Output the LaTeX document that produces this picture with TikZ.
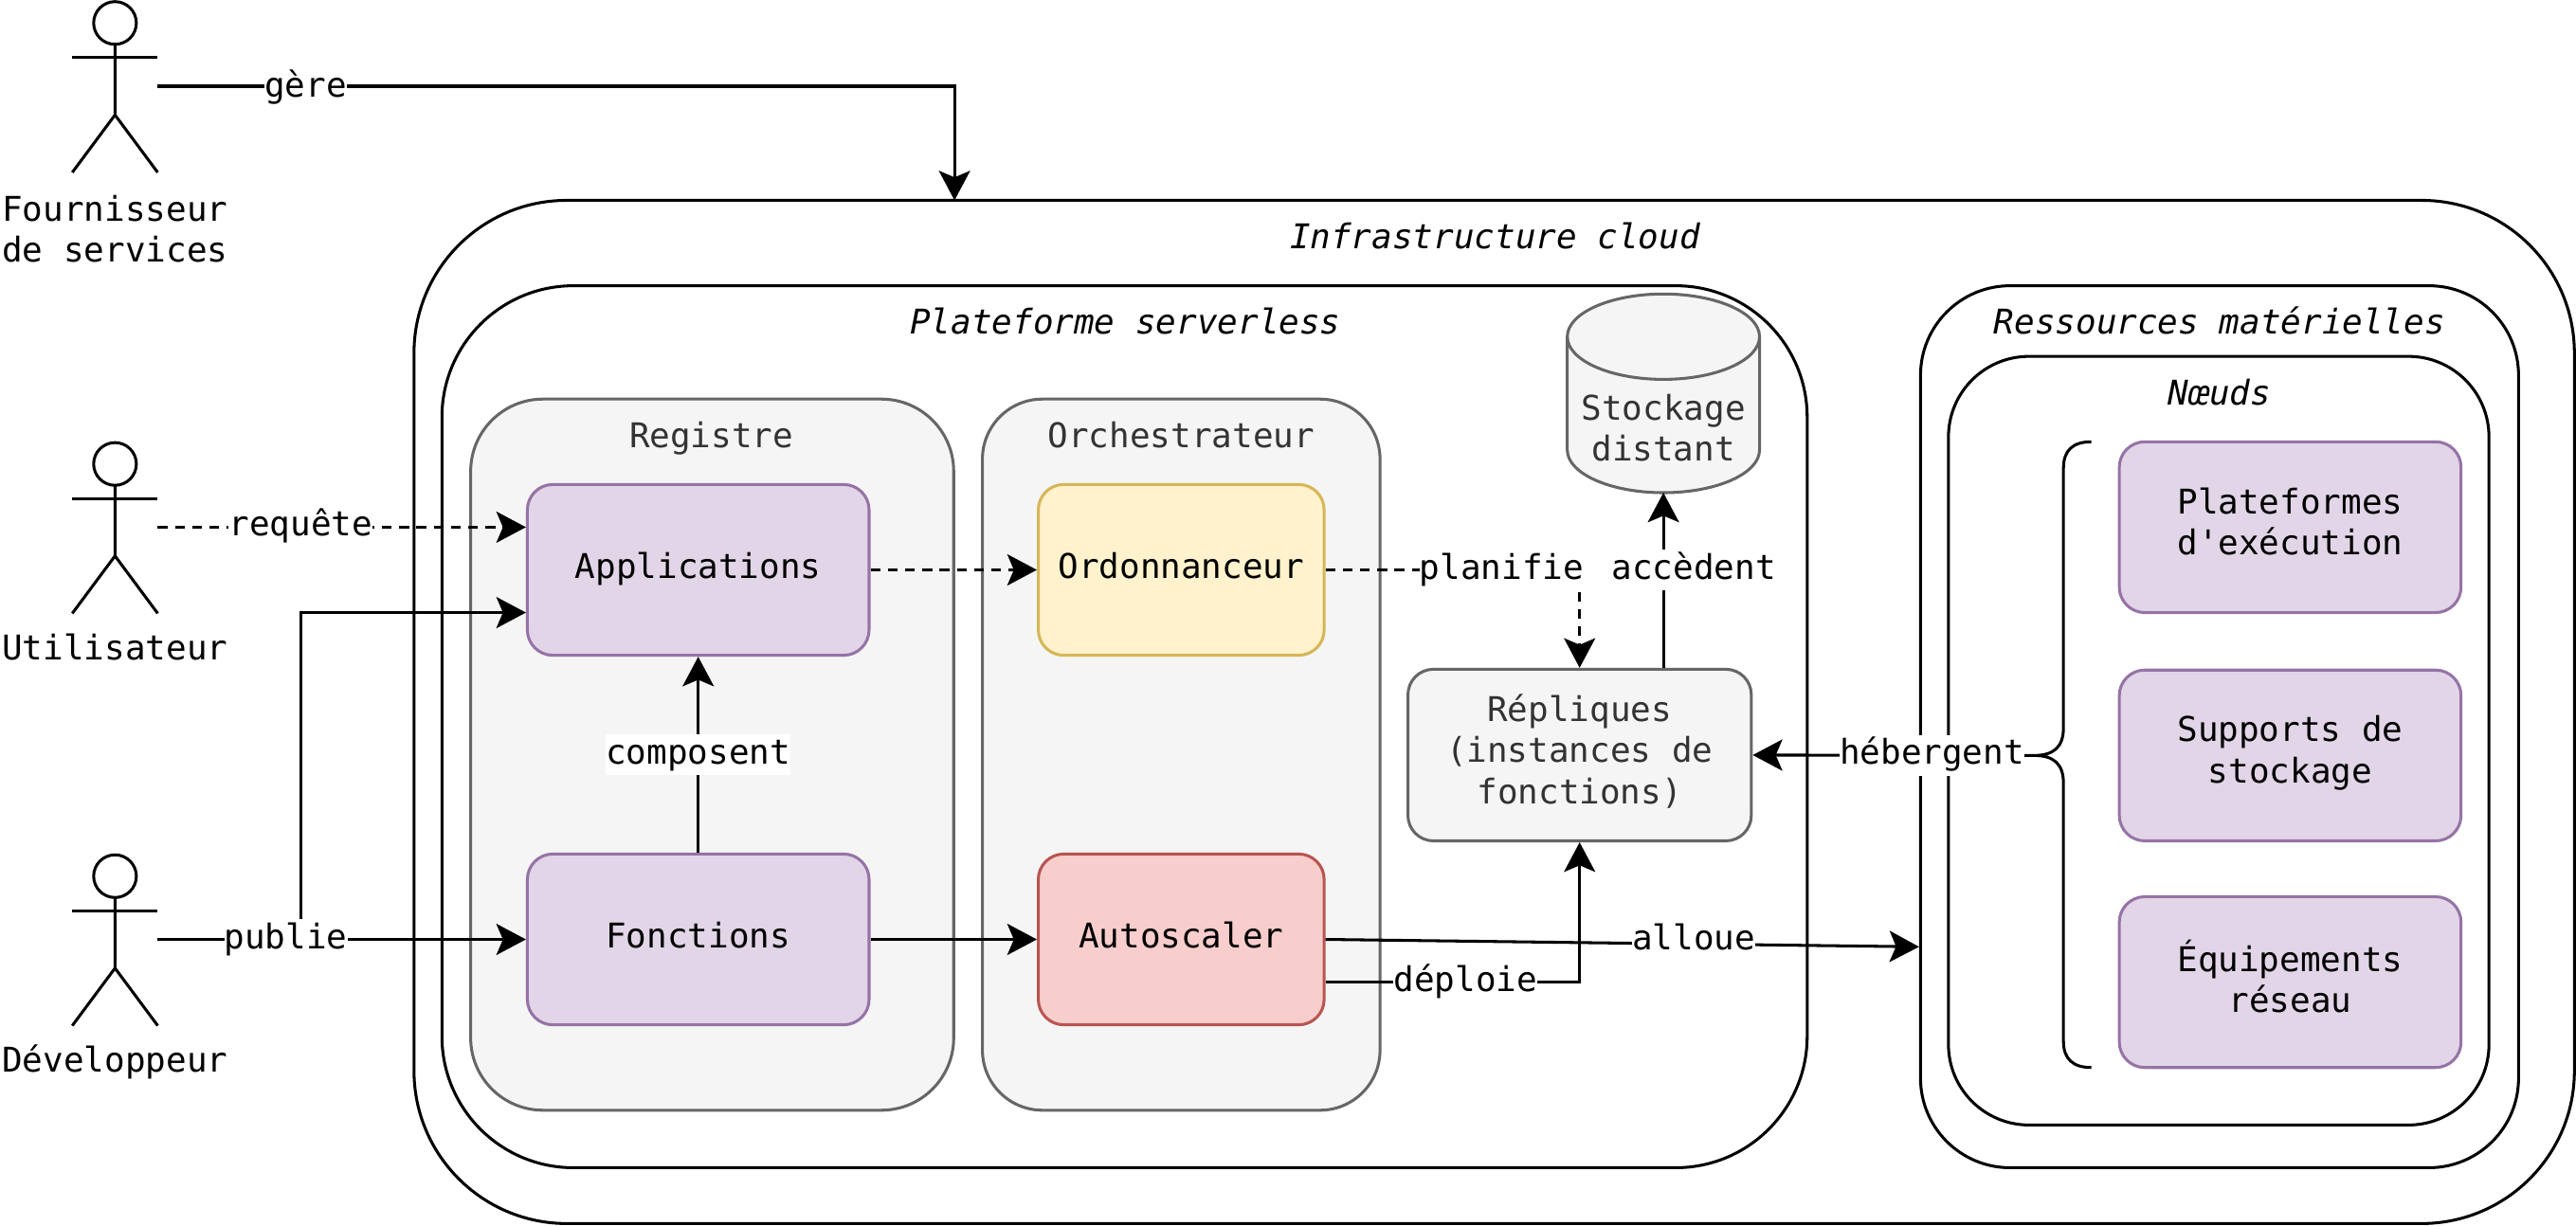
\documentclass[tikz,border=0pt]{standalone}
\usepackage{fontspec}
\setmainfont{DejaVu Sans Mono}
\usetikzlibrary{positioning,arrows.meta,calc,shapes.geometric}
\definecolor{purpleBg}{HTML}{E1D5E7}
\definecolor{purpleLn}{HTML}{9673A6}
\definecolor{yellowBg}{HTML}{FFF2CC}
\definecolor{yellowLn}{HTML}{D6B656}
\definecolor{redBg}{HTML}{F8CECC}
\definecolor{redLn}{HTML}{B85450}

\begin{document}
\begin{tikzpicture}[>={Stealth[length=.36cm,width=.38cm,inset=.08cm]},line width=1pt,
    font=\fontsize{11.8}{14.2}\selectfont,
    zone/.style={draw,rounded corners,align=center,execute at begin node=\strut,execute at end node=\strut},
    cadre/.style={zone,fill=white},
    gris/.style={zone,draw=black!60,fill=black!4,text=black!80},
    violet/.style={zone,fill=purpleBg,draw=purpleLn,
      minimum width=4.16cm,minimum height=2.08cm,rounded corners=.31cm},
    titre/.style={inner sep=0,text height=.36cm,text depth=.14cm},
    lbl/.style={fill=white,inner sep=0,text height=.36cm,text depth=.14cm},
    pointille/.style={dashed,dash pattern=on .12cm off .09cm},
    acteur/.style={inner sep=0,outer sep=0,minimum width=1.04cm,minimum height=2.1cm}]
  \useasboundingbox (0,0) rectangle (31.36,14.92);

  % cadres
  \node[cadre,rounded corners=1.86cm,minimum width=26.3cm,minimum height=12.46cm] (infra) at (18.19,6.25) {};
  \node[cadre,rounded corners=1.6cm,minimum width=16.62cm,minimum height=10.74cm] (plateforme) at (13.69,6.07) {};
  \node[cadre,rounded corners=1.09cm,minimum width=7.28cm,minimum height=10.74cm] (ressources) at (27.02,6.07) {};
  \node[cadre,rounded corners=.98cm,minimum width=6.58cm,minimum height=9.36cm] (noeuds) at (27.01,5.9) {};
  \node[gris,rounded corners=.88cm,minimum width=5.88cm,minimum height=8.66cm] (registre) at (8.67,5.73) {};
  \node[gris,rounded corners=.73cm,minimum width=4.84cm,minimum height=8.66cm] (orchestrateur) at (14.38,5.73) {};

  \node[titre] (tinfra) at (18.2,12.0) {\itshape Infrastructure cloud};
  \node[titre] (tplateforme) at (13.7,10.96) {\itshape Plateforme serverless};
  \node[titre] (tressources) at (27.02,10.96) {\itshape Ressources matérielles};
  \node[titre] (tnoeuds) at (27.02,10.1) {\itshape Nœuds};
  \node[titre,text=black!80] (tregistre) at (8.66,9.58) {Registre};
  \node[titre,text=black!80] (torchestrateur) at (14.38,9.58) {Orchestrateur};

  % blocs
  \node[violet] (applications) at (8.5,7.98) {Applications};
  \node[violet] (fonctions) at (8.5,3.48) {Fonctions};
  \node[zone,draw=yellowLn,fill=yellowBg,minimum width=3.48cm,minimum height=2.08cm,rounded corners=.31cm]
    (ordonnanceur) at (14.38,7.98) {Ordonnanceur};
  \node[zone,draw=redLn,fill=redBg,minimum width=3.48cm,minimum height=2.08cm,rounded corners=.31cm]
    (autoscaler) at (14.38,3.48) {Autoscaler};
  \node[gris,minimum width=4.18cm,minimum height=2.09cm,rounded corners=.31cm] (repliques) at (19.23,5.725)
    {Répliques\\(instances de\\fonctions)};
  \node[inner sep=0,outer sep=0,minimum width=2.34cm,minimum height=2.42cm] (stockage) at (20.25,10.13) {};
  \draw[draw=black!60,fill=black!4] ($(stockage.north west)+(0,-.52)$) arc[start angle=180,end angle=0,x radius=1.17,y radius=.52]
    -- ($(stockage.south east)+(0,.52)$) arc[start angle=0,end angle=-180,x radius=1.17,y radius=.52] -- cycle;
  \draw[draw=black!60] ($(stockage.north west)+(0,-.52)$) arc[start angle=180,end angle=360,x radius=1.17,y radius=.52];
  \node[inner sep=0,align=center,text=black!80,execute at begin node=\strut,execute at end node=\strut]
    (tstockage) at (20.25,9.64) {Stockage\\distant};
  \node[violet] (execution) at (27.88,8.5) {Plateformes\\d\textquotesingle exécution};
  \node[violet] (supports) at (27.88,5.72) {Supports de\\stockage};
  \node[violet] (reseau) at (27.88,2.96) {Équipements\\réseau};

  % acteurs
  \foreach \acteur/\yy/\ecart/\txt in {fournisseur/13.87/.26/{Fournisseur\\de services},utilisateur/8.5/.2/Utilisateur,developpeur/3.48/.2/Développeur}{
    \node[acteur] (\acteur) at (1.4,\yy) {};
    \draw (\acteur.center)+(0,.77) circle (.26);
    \draw (\acteur.center)+(0,.51) -- +(0,-.35) -- +(-.52,-1.05) (\acteur.center)+(0,-.35) -- +(.52,-1.05);
    \draw (\acteur.center)+(-.52,.35) -- +(.52,.35);
    \node[below=\ecart cm of \acteur,inner sep=0,align=center,execute at begin node=\strut,execute at end node=\strut] (nom\acteur) {\txt};
  }

  % accolade
  \coordinate (accolade) at (24.76,5.72);
  \draw (25.46,9.54) .. controls (25.24,9.54) and (25.12,9.44) .. (25.12,9.22) -- (25.12,6.06)
    .. controls (25.12,5.82) and (25,5.72) .. (accolade)
    .. controls (25,5.72) and (25.12,5.62) .. (25.12,5.38) -- (25.12,2.24)
    .. controls (25.12,2.02) and (25.24,1.92) .. (25.46,1.92);

  % fleches
  \coordinate (cible) at (11.62,12.48);
  \coordinate (coude) at (3.66,3.48);
  \draw[->] (fournisseur.east) -| (cible);
  \draw[->,pointille] (utilisateur.east) -- ($(applications.west)+(0,.52)$);
  \draw[->] (developpeur.east) -- (fonctions.west);
  \draw[->] (coude) |- ($(applications.west)+(0,-.52)$);
  \draw[->] (fonctions.north) -- (applications.south);
  \draw[->,pointille] (applications.east) -- (ordonnanceur.west);
  \draw[->] (fonctions.east) -- (autoscaler.west);
  \draw[->,pointille] (ordonnanceur.east) -| (repliques.north);
  \draw[->] (stockage.south |- repliques.north) -- (stockage.south);
  \draw[->] ($(autoscaler.east)+(0,-.52)$) -| (repliques.south);
  \draw[->] (autoscaler.east) -- ($(ressources.west)+(0,-2.68)$);
  \draw[->] (accolade) -- (repliques.east);

  % libelles
  \node[lbl] (gere) at (3.72,13.85) {gère};
  \node[lbl] (requete) at (3.66,8.5) {requête};
  \node[lbl] (publie) at (3.48,3.48) {publie};
  \node[lbl] (composent) at (8.5,5.73) {composent};
  \node[lbl] (planifie) at (18.28,7.98) {planifie};
  \node[lbl] (accedent) at (20.62,7.98) {accèdent};
  \node[lbl] (hebergent) at (23.52,5.72) {hébergent};
  \node[lbl] (deploie) at (17.84,2.96) {déploie};
  \node[lbl] (alloue) at (20.62,3.46) {alloue};
\end{tikzpicture}
\end{document}
